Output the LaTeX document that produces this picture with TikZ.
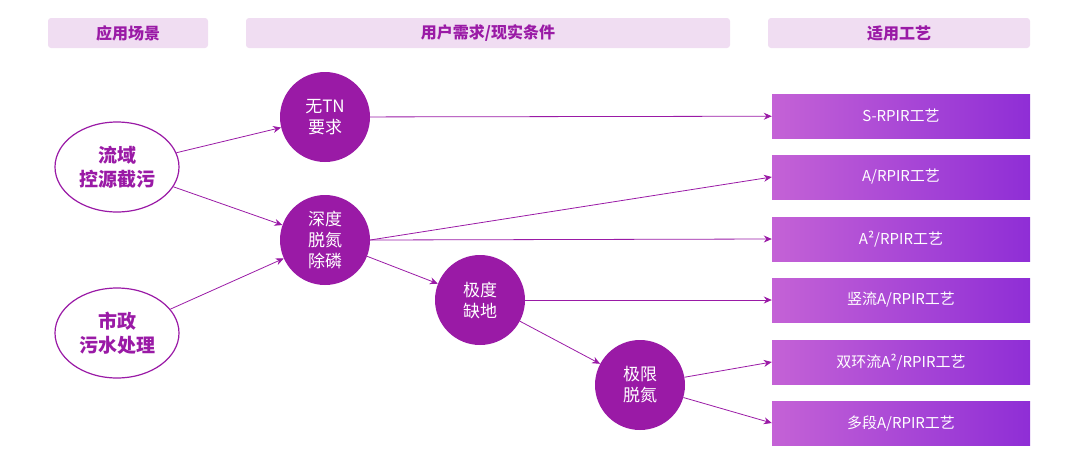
\documentclass[tikz,border=0pt]{standalone}
\usepackage{fontspec}
\setmainfont{Noto Sans CJK SC}
\usetikzlibrary{arrows.meta,shapes.geometric}
\definecolor{pur}{HTML}{9A1AA6}
\definecolor{hdr}{HTML}{F0DDF2}
\definecolor{gl}{HTML}{C462D6}
\definecolor{gr}{HTML}{8F2ED6}
\begin{document}
\begin{tikzpicture}[x=1pt,y=-1pt,
 hd/.style={fill=hdr,rounded corners=3pt,text=pur,font=\bfseries\fontsize{16}{18}\selectfont},
 el/.style={ellipse,draw=pur,line width=1.2pt,fill=white,minimum width=124pt,minimum height=90pt,text=pur,align=center,font=\bfseries\fontsize{19}{24}\selectfont},
 ci/.style={circle,fill=pur,minimum size=90pt,inner sep=0pt,text=white,align=center,font=\fontsize{17}{21}\selectfont},
 bx/.style={left color=gl,right color=gr,minimum width=258pt,minimum height=44pt,text=white,font=\fontsize{15}{17}\selectfont},
 ar/.style={draw=pur,line width=0.8pt,-{Stealth[length=8pt,width=7pt]}}]
\useasboundingbox (0,0) rectangle (1080,459);
\node[hd,minimum width=160pt,minimum height=30pt] (h1) at (128,33) {应用场景};
\node[hd,minimum width=484pt,minimum height=30pt] (h2) at (488,33) {用户需求/现实条件};
\node[hd,minimum width=262pt,minimum height=30pt] (h3) at (899,33) {适用工艺};
\node[el] (e1) at (117,167) {流域\\控源截污};
\node[el] (e2) at (117,333) {市政\\污水处理};
\node[ci] (c1) at (325,117) {无TN\\要求};
\node[ci] (c2) at (325,240) {深度\\脱氮\\除磷};
\node[ci] (c3) at (480,300) {极度\\缺地};
\node[ci] (c4) at (640,385) {极限\\脱氮};
\node[bx] (b1) at (901,116) {S-RPIR工艺};
\node[bx] (b2) at (901,177) {A/RPIR工艺};
\node[bx] (b3) at (901,239) {A²/RPIR工艺};
\node[bx] (b4) at (901,300) {竖流A/RPIR工艺};
\node[bx] (b5) at (901,362) {双环流A²/RPIR工艺};
\node[bx] (b6) at (901,423) {多段A/RPIR工艺};
\draw[ar] (e1) -- (c1);
\draw[ar] (e1) -- (c2);
\draw[ar] (e2) -- (c2);
\draw[ar] (c1) -- (b1);
\draw[ar] (c2.east) -- (b2.west);
\draw[ar] (c2.east) -- (b3.west);
\draw[ar] (c2) -- (c3);
\draw[ar] (c3.east) -- (b4.west);
\draw[ar] (c3) -- (c4);
\draw[ar] (c4) -- (b5.west);
\draw[ar] (c4) -- (b6.west);
\end{tikzpicture}
\end{document}
